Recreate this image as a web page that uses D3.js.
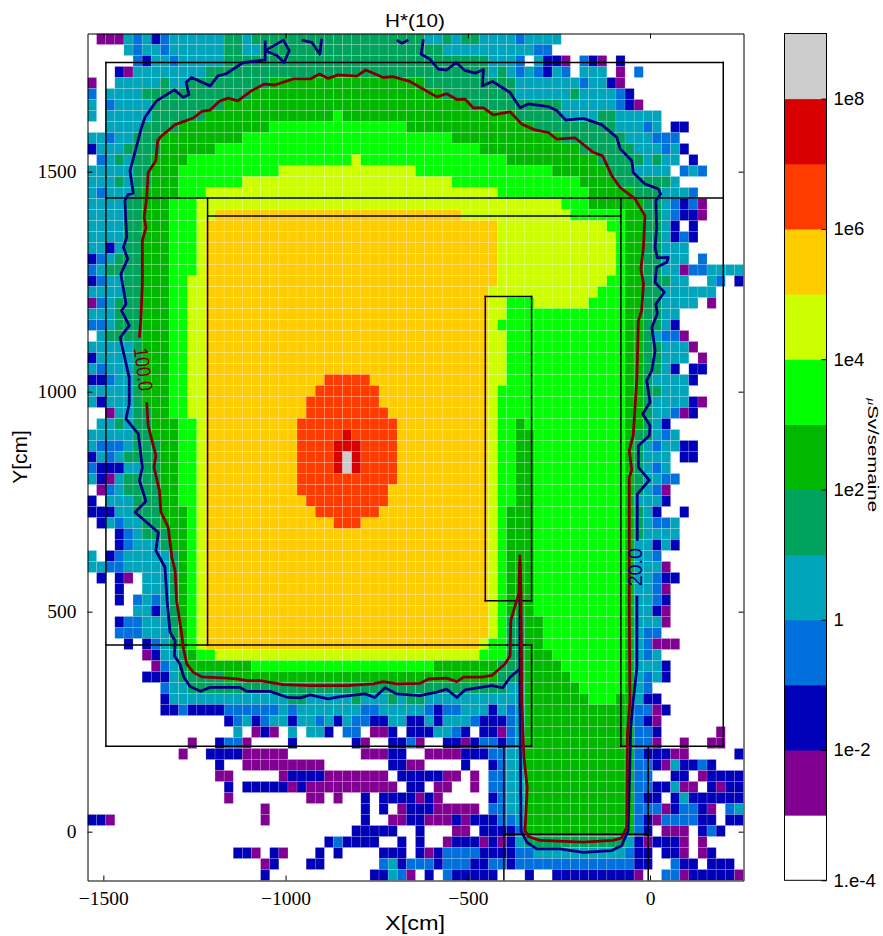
<!DOCTYPE html>
<html><head><meta charset="utf-8">
<script src="https://cdn.jsdelivr.net/npm/d3@7"></script>
<style>html,body{margin:0;padding:0;background:#fff}svg{display:block}</style>
</head><body><svg id="c" width="883" height="936"></svg>
<script>
const bandColors=["#ffffff","#820091","#0000b8","#0070dd","#00a5bb","#00a35c","#00b800","#00ff00","#ccff00","#ffcc00","#ff3c00","#d80000","#cccccc"];
const barTicks=[[8,"1e8"],[6,"1e6"],[4,"1e4"],[2,"1e2"],[0,"1"],[-2,"1e-2"],[-4,"1.e-4"]];
const xTicks=[-1500,-1000,-500,0];
const yTicks=[0,500,1000,1500];
// band index per cell, each row written as "startColumn:band" runs (top row first, band is a hex digit)
const doseRows=[
"0:0 1:1 4:4 5:3 6:4 7:2 8:3 9:4 15:5 17:4 18:5 37:4 39:5 40:4 41:5 43:4 47:3 48:4 52:0",
"0:0 4:4 5:3 6:4 8:3 9:4 15:5 17:4 19:5 39:4 49:3 51:0",
"0:0 5:3 6:2 7:4 9:3 10:4 15:5 44:4 47:3 48:0 49:4 50:2 52:1 53:0 54:3 55:2 56:1 57:0 58:2 59:0",
"0:0 3:2 4:1 5:4 13:5 44:4 45:5 46:4 47:3 48:4 49:3 50:2 51:4 52:3 53:0 54:4 57:0 58:1 59:0 60:3 61:0",
"0:1 1:0 3:4 8:5 9:4 11:5 20:6 37:5 47:4 54:3 55:4 57:2 58:1 59:0",
"0:3 1:0 2:4 6:5 18:6 39:5 47:4 53:5 54:4 58:3 59:2 60:0",
"0:4 1:0 2:3 3:4 7:5 15:6 42:5 52:4 58:3 59:2 60:1 61:0",
"0:4 1:0 2:4 7:5 13:6 27:7 28:6 47:5 52:4 56:5 58:4 63:0",
"0:0 2:4 6:5 10:6 20:7 35:6 49:5 58:4 61:3 62:4 63:0 64:2 66:0",
"0:4 2:3 3:4 5:5 8:6 17:7 40:6 52:5 59:4 62:3 65:0",
"0:2 1:4 4:5 8:6 14:7 43:6 54:5 60:4 63:3 64:4 65:2 66:0",
"0:0 1:3 2:4 3:5 4:4 5:5 7:6 11:7 29:8 30:7 46:6 56:5 61:4 62:5 63:4 65:0 66:2 67:0",
"0:4 5:5 7:6 10:7 21:8 36:7 51:6 57:5 60:4 64:0 65:3 66:4 67:3 68:0",
"0:4 3:5 4:4 5:5 7:6 10:7 17:8 40:7 54:6 58:5 64:4 65:0",
"0:4 1:3 2:4 5:5 6:6 10:7 13:8 45:7 55:6 60:5 63:4 66:3 67:0",
"0:4 4:5 6:6 9:7 12:8 52:7 55:6 61:5 63:4 64:3 65:2 66:3 67:1 68:0",
"0:4 4:5 6:6 9:7 12:8 14:9 41:8 53:7 59:6 61:5 63:4 64:3 65:2 67:1 68:0",
"0:4 4:5 6:6 9:7 12:8 13:9 45:8 57:7 59:6 61:5 63:4 64:2 65:0 66:2 67:0",
"0:4 4:5 6:6 9:7 12:8 13:9 45:8 58:7 59:6 61:5 63:4 64:2 65:3 66:2 67:0",
"0:4 2:2 3:4 4:5 6:6 9:7 12:8 13:9 45:8 58:7 59:6 61:5 63:4 66:0",
"0:2 1:3 2:4 3:5 6:6 9:7 12:8 13:9 45:8 58:7 59:6 61:5 63:4 66:0 67:3 68:0",
"0:3 1:4 2:5 6:6 9:7 12:8 13:9 45:8 58:7 59:6 61:5 63:4 65:1 66:3 68:4",
"0:2 1:3 2:4 4:5 6:6 9:7 11:8 13:9 45:8 57:7 59:6 61:5 64:4 66:0 68:4 69:3 70:0 71:2",
"0:4 4:5 6:6 9:7 11:8 13:9 44:8 56:7 59:6 61:5 63:4 69:0",
"0:1 1:3 2:4 3:5 6:6 9:7 11:8 13:9 44:8 46:7 49:8 55:7 59:6 61:5 63:4 67:0 68:1 69:0",
"0:4 3:5 6:6 9:7 11:8 13:9 44:8 46:7 59:6 61:5 63:4 65:0",
"0:3 2:4 3:5 6:6 9:7 11:8 13:9 44:8 45:7 59:6 61:5 63:4 64:2 65:0",
"0:0 1:4 2:5 6:6 9:7 11:8 13:9 44:8 46:7 59:6 61:5 62:4 63:3 65:1 66:0",
"0:4 5:5 6:6 9:7 11:8 13:9 44:8 46:7 59:6 61:5 63:4 66:1 67:0",
"0:2 1:4 5:5 6:6 9:7 11:8 13:9 44:8 46:7 59:6 61:5 63:4 66:0 67:1 68:0",
"0:4 1:3 2:4 5:5 6:6 9:7 11:8 13:9 44:8 46:7 59:6 61:5 63:4 64:2 65:0 66:2 68:0",
"0:2 2:3 3:4 5:5 6:6 9:7 11:8 13:9 26:a 31:9 44:8 46:7 59:6 61:5 62:4 66:2 67:0",
"0:4 5:5 6:6 9:7 11:8 13:9 25:a 32:9 44:8 45:7 59:6 61:5 63:4 66:0",
"0:4 1:2 2:4 5:5 6:6 9:7 11:8 13:9 24:a 32:9 44:8 45:7 59:6 61:5 62:4 66:2 67:1 68:0",
"0:0 2:1 3:4 5:5 7:6 9:7 11:8 13:9 24:a 33:9 44:8 45:7 59:6 61:5 62:4 64:3 65:1 66:2 67:0",
"0:0 1:4 3:5 4:4 5:5 7:6 10:7 12:8 13:9 23:a 34:9 44:8 45:7 47:6 48:7 59:6 61:5 62:4 63:2 64:0",
"0:4 5:5 7:6 10:7 12:8 13:9 23:a 28:b 29:a 34:9 44:8 45:7 47:6 49:7 59:6 60:5 62:4 63:3 64:4 65:0",
"0:4 1:3 4:4 5:5 8:6 10:7 12:8 13:9 23:a 27:b 30:a 34:9 44:8 45:7 47:6 49:7 59:6 60:5 61:4 62:3 63:4 65:2 67:0",
"0:2 1:4 2:3 3:4 4:5 8:6 10:7 12:8 13:9 23:a 27:b 28:c 29:b 30:a 34:9 44:8 45:7 47:6 49:7 59:6 60:5 61:4 64:0 65:2 67:0",
"0:3 1:2 4:4 6:5 8:6 10:7 12:8 13:9 23:a 27:b 28:c 29:b 30:a 34:9 44:8 45:7 47:6 49:7 59:6 60:5 61:4 62:3 63:4 64:0",
"0:4 1:2 2:1 3:4 4:5 8:6 10:7 12:8 13:9 23:a 34:9 44:8 45:7 47:6 49:7 59:6 60:5 61:4 63:3 65:0",
"0:0 1:1 2:3 3:4 4:5 8:6 10:7 12:8 13:9 23:a 33:9 44:8 45:7 47:6 49:7 59:6 60:5 61:4 62:3 63:1 64:0",
"0:2 1:0 2:4 5:5 8:6 10:7 12:8 13:9 24:a 33:9 44:8 45:7 47:6 49:7 59:6 60:4 63:2 64:0",
"0:2 3:4 5:5 8:6 11:7 12:8 13:9 25:a 32:9 44:8 45:7 46:6 49:7 59:6 60:5 61:4 62:2 63:0 65:2 66:0",
"0:0 1:2 2:4 3:3 4:4 6:5 8:6 11:7 12:8 13:9 27:a 30:9 44:8 45:7 46:6 49:7 59:6 60:5 61:4 62:3 64:4 65:0",
"0:0 3:2 4:3 5:4 6:5 9:6 11:7 12:8 13:9 44:8 45:7 46:6 49:7 59:6 60:5 61:4 65:0",
"0:0 3:2 4:3 5:4 8:5 9:6 11:7 12:8 13:9 44:8 45:7 46:6 49:7 59:6 60:4 62:2 63:4 64:2 65:0",
"0:4 1:0 2:2 3:3 4:4 9:5 10:6 11:7 12:8 13:9 44:8 45:7 46:6 49:7 59:6 60:4 62:3 63:0",
"0:4 2:3 4:4 9:5 10:6 11:7 12:8 13:9 44:8 45:7 46:6 49:7 59:6 60:4 63:1 64:0",
"0:0 1:2 2:0 3:2 4:1 5:0 6:4 9:5 10:6 11:7 12:8 13:9 44:8 45:7 46:6 49:7 59:6 60:4 62:3 63:2 65:0",
"0:0 3:2 4:0 6:4 9:5 10:6 11:7 12:8 13:9 44:8 45:7 46:6 49:7 59:6 60:4 62:3 63:1 64:0",
"0:0 3:2 4:0 5:3 6:4 7:3 8:4 9:5 10:6 11:7 12:8 13:9 44:8 45:7 46:6 49:7 59:6 60:4 62:3 63:2 64:0",
"0:0 5:4 7:2 8:4 9:5 10:6 11:7 12:8 13:9 44:8 45:7 46:6 49:7 59:6 60:4 62:2 63:1 64:0",
"0:0 3:2 4:3 6:4 9:5 10:6 11:7 12:8 13:9 44:8 45:7 46:5 48:6 50:7 59:6 60:4 63:1 64:0",
"0:0 3:3 6:4 9:5 10:6 11:7 12:8 13:9 44:8 45:7 46:5 48:6 50:7 59:6 60:4 61:3 63:0",
"0:0 4:2 5:0 6:2 7:3 8:4 9:5 10:6 11:7 12:8 13:9 43:8 44:7 46:5 48:6 50:7 59:6 60:4 61:3 62:1 65:0",
"0:0 6:1 7:2 8:4 10:5 11:6 12:7 14:8 43:7 46:5 48:6 51:7 59:6 60:4 61:3 62:4 63:0",
"0:0 7:1 8:3 9:4 10:5 11:6 18:7 38:6 45:5 48:6 52:7 59:6 60:4 63:2 64:0",
"0:0 6:2 9:4 10:5 15:6 45:5 48:6 53:7 59:6 60:4 61:3 62:4 63:2 64:0",
"0:0 8:3 9:4 11:5 46:4 48:6 54:7 59:6 60:4 61:3 62:0",
"0:0 8:2 9:4 22:5 24:4 29:5 30:4 33:5 34:4 35:5 37:4 48:6 55:7 58:6 60:4 61:2 63:0",
"0:0 8:2 10:3 11:2 15:3 21:4 22:3 23:4 30:3 32:4 37:3 38:2 39:3 41:4 44:2 45:4 46:3 47:4 48:6 60:3 62:1 63:2 64:0",
"0:0 15:2 16:3 17:4 18:2 19:3 20:4 22:2 23:4 25:3 26:4 27:2 28:4 29:3 31:2 33:4 35:2 37:4 38:2 39:4 42:3 43:2 46:3 47:4 48:6 60:3 61:2 62:1 63:0",
"0:0 16:4 17:0 18:1 19:2 20:1 21:0 22:4 23:0 24:4 26:2 27:0 28:3 30:0 31:1 33:2 34:0 35:2 38:4 40:3 41:2 42:0 43:2 45:1 46:3 47:4 48:6 60:3 62:2 63:0 69:1 70:0",
"0:0 11:1 12:0 14:2 15:3 17:1 18:0 22:2 23:0 29:2 30:1 31:0 33:2 35:3 36:1 37:0 39:2 41:1 42:2 43:3 45:2 46:3 47:4 48:6 60:3 62:1 63:0 65:1 66:0 68:1 70:0",
"0:0 10:1 11:0 13:2 17:1 22:0 30:1 33:2 35:0 37:1 41:2 44:3 46:4 48:6 60:3 61:2 64:1 66:0 71:2",
"0:0 14:2 15:0 17:1 26:0 33:2 35:1 37:0 41:2 42:0 44:2 45:3 46:4 48:6 60:3 62:2 63:1 64:4 65:2 67:3 68:2 69:0",
"0:0 14:1 16:0 21:1 22:2 26:1 33:0 34:2 39:1 41:0 42:1 43:0 44:3 46:4 48:6 60:3 62:0 64:2 66:0 67:1 68:2",
"0:0 15:2 16:0 17:2 22:1 23:2 24:1 34:0 35:2 37:0 38:1 40:0 42:1 43:0 44:3 46:4 48:6 60:3 62:2 64:4 65:1 67:0 68:2 69:1 70:2",
"0:0 15:1 16:0 24:1 26:0 27:1 28:0 30:2 31:0 32:2 36:1 37:2 38:1 39:0 44:2 45:3 46:4 48:6 60:3 61:2 63:0 64:2 65:4 66:2",
"0:0 19:1 20:0 30:2 31:0 32:2 33:0 34:1 35:2 38:1 43:0 44:3 46:4 48:6 60:3 63:1 64:2 65:3 67:2 68:1 69:0 70:3 71:4",
"0:2 2:1 3:0 19:1 20:0 30:2 31:0 33:1 35:2 37:1 40:2 41:1 42:2 45:3 47:4 48:6 60:3 61:2 62:1 63:3 67:2 69:0 70:2",
"0:0 29:2 34:0 36:2 37:0 40:1 42:0 43:2 47:3 48:6 60:3 61:2 62:0 63:1 66:0 67:2 68:3 69:2 70:0",
"0:0 26:2 27:3 28:2 32:0 34:2 35:0 36:2 37:0 39:1 40:2 43:1 44:2 45:1 46:2 47:4 48:5 59:4 60:2 61:1 62:2 65:1 66:0 67:1 68:0",
"0:0 16:2 18:1 19:0 20:2 21:1 22:0 25:2 26:0 27:2 28:0 32:2 35:0 36:2 37:1 38:2 39:3 43:2 47:3 49:4 59:3 60:2 62:0 63:2 65:1 66:0 67:1 68:2 69:0",
"0:0 19:1 20:2 21:0 24:2 26:0 32:3 33:4 34:2 35:3 38:2 39:3 42:2 44:3 46:2 47:3 60:2 62:0 64:3 65:2 67:0 68:2 71:0",
"0:0 19:2 20:0 31:2 33:4 34:3 35:1 36:0 37:2 38:0 39:3 40:2 45:0 48:2 49:0 51:2 60:1 61:0 63:3 65:1 66:2 71:1"
];
// iso-dose contours, [X cm, Y cm]
const contour100=[[-1401,1123],[-1397,1165],[-1393,1245],[-1393,1343],[-1383,1373],[-1388,1396],[-1381,1442],[-1377,1498],[-1356,1525],[-1351,1570],[-1342,1580],[-1303,1607],[-1253,1622],[-1230,1637],[-1207,1640],[-1180,1661],[-1157,1667],[-1131,1661],[-1093,1684],[-1058,1699],[-1029,1697],[-979,1711],[-931,1711],[-907,1722],[-883,1712],[-855,1720],[-805,1717],[-780,1731],[-732,1714],[-706,1716],[-659,1705],[-631,1692],[-585,1670],[-558,1677],[-530,1664],[-508,1665],[-485,1645],[-457,1645],[-430,1629],[-384,1636],[-352,1608],[-316,1595],[-279,1589],[-256,1574],[-206,1577],[-156,1544],[-130,1536],[-105,1491],[-82,1464],[-41,1438],[-14,1400],[-18,1328],[-25,1279],[-18,1245],[-23,1184],[-32,1161],[-36,1032],[-46,900],[-57,866],[-50,822],[-57,805],[-57,502],[-55,298],[-62,222],[-64,10],[-78,-14],[-101,-20],[-183,-24],[-302,-20],[-334,-11],[-343,2],[-337,101],[-346,169],[-352,298],[-354,541],[-357,627],[-360,541],[-366,525],[-382,480],[-384,400],[-398,381],[-434,355],[-462,351],[-512,351],[-530,341],[-558,349],[-608,347],[-631,337],[-695,336],[-732,341],[-759,336],[-832,332],[-933,332],[-1006,334],[-1070,343],[-1107,343],[-1134,347],[-1162,349],[-1230,352],[-1253,362],[-1271,381],[-1281,419],[-1285,449],[-1299,525],[-1303,593],[-1312,623],[-1322,692],[-1342,726],[-1346,775],[-1361,828],[-1356,855],[-1377,923],[-1381,976]];
const contour20a=[[-36,536],[-36,373],[-46,298],[-53,237],[-60,2],[-78,-32],[-105,-43],[-183,-47],[-247,-39],[-311,-39],[-338,-24],[-354,2],[-357,298],[-357,611],[-357,370],[-384,351],[-404,327],[-434,332],[-508,322],[-530,305],[-558,324],[-585,317],[-631,309],[-695,313],[-727,327],[-755,305],[-782,313],[-851,307],[-883,302],[-933,311],[-960,304],[-993,305],[-1043,319],[-1107,319],[-1125,328],[-1207,328],[-1233,319],[-1262,330],[-1279,351],[-1290,381],[-1305,400],[-1303,434],[-1317,453],[-1325,525],[-1331,601],[-1356,639],[-1349,680],[-1413,726],[-1383,751],[-1401,798],[-1393,828],[-1404,904],[-1438,938],[-1429,972],[-1429,1032],[-1454,1123],[-1429,1150],[-1450,1184],[-1438,1199],[-1452,1267],[-1433,1302],[-1445,1328],[-1436,1351],[-1441,1434],[-1432,1448],[-1418,1451],[-1427,1502],[-1395,1601],[-1386,1623],[-1354,1661],[-1305,1686],[-1281,1669],[-1265,1675],[-1273,1703],[-1258,1714],[-1207,1695],[-1185,1718],[-1162,1723],[-1116,1748],[-1056,1754],[-1056,1798]];
const contour20b=[[-1056,1775],[-1006,1799],[-990,1775],[-1004,1748],[-1024,1764],[-1056,1775]];
const contour20c=[[-956,1799],[-928,1794],[-906,1767],[-901,1802]];
const contour20d=[[-695,1799],[-681,1792],[-663,1799]];
const contour20e=[[-622,1801],[-628,1767],[-604,1756],[-581,1733],[-558,1731],[-532,1748],[-508,1730],[-480,1724],[-457,1732],[-460,1695],[-432,1705],[-384,1680],[-357,1645],[-334,1654],[-279,1648],[-256,1639],[-231,1617],[-183,1621],[-133,1607],[-91,1578],[-82,1552],[-50,1525],[-46,1498],[-14,1472],[23,1461],[29,1449],[16,1434],[18,1373],[14,1328],[20,1304],[50,1305],[46,1294],[18,1283],[14,1248],[39,1226],[16,1199],[20,1177],[5,1146],[14,1093],[5,1048],[-9,1025],[0,976],[-20,949],[0,923],[-2,900],[-32,877],[-32,828],[-2,799],[-35,767],[-35,661]];
// wall outlines [X1,Y1,X2,Y2] in cm
const walls=[[-1493,1748,201,1748],[-1493,1748,-1493,194],[201,1748,201,194],[-1493,1440,201,1440],[-1214,1440,-1214,424],[-80,1440,-80,194],[-1214,1399,-80,1399],[-1493,424,-325,424],[-1493,194,-325,194],[-80,194,201,194],[-325,424,-325,194],[-452,1216,-325,1216],[-452,525,-325,525],[-452,1216,-452,525],[-325,1216,-325,525],[-401,194,-401,-111],[-5,194,-5,-111],[-401,-6,-5,-6]];

const W=883,H=936;
const xDomain=[-1543.5,256.5],yDomain=[-111,1814];
const x=d3.scaleLinear().domain(xDomain).range([87.5,743.5]);
const y=d3.scaleLinear().domain(yDomain).range([880.5,33.5]);
const color=d3.scaleOrdinal(d3.range(13),bandColors);
const cellSize=25;
const cells=[];
doseRows.forEach((row,r)=>{
  const runs=row.split(" ").map(s=>s.split(":"));
  runs.forEach((run,i)=>{
    const start=+run[0],end=i+1<runs.length?+runs[i+1][0]:72,band=parseInt(run[1],16);
    for(let c=start;c<end;c++) if(band>0) cells.push({c,r,band});
  });
});
const svg=d3.select("#c");
svg.append("rect").attr("width",W).attr("height",H).attr("fill","#fff");
svg.append("defs").append("clipPath").attr("id","ax").append("rect").attr("x",87.5).attr("y",33.5).attr("width",656).attr("height",847);
const plot=svg.append("g").attr("clip-path","url(#ax)");
const cx=c=>x(xDomain[0]+c*cellSize), cy=r=>y(yDomain[1]-r*cellSize);
plot.append("g").selectAll("rect").data(cells).join("rect")
  .attr("x",d=>cx(d.c)).attr("y",d=>cy(d.r))
  .attr("width",d=>cx(d.c+1)-cx(d.c)).attr("height",d=>cy(d.r+1)-cy(d.r))
  .attr("fill",d=>color(d.band)).attr("stroke","#fff").attr("stroke-opacity",0.2).attr("stroke-width",0.7);
plot.append("g").selectAll("line").data(walls).join("line")
  .attr("x1",d=>x(d[0])).attr("y1",d=>y(d[1])).attr("x2",d=>x(d[2])).attr("y2",d=>y(d[3]))
  .attr("stroke","#000").attr("stroke-width",1.5).attr("stroke-linecap","square");
const line=d3.line().x(d=>x(d[0])).y(d=>y(d[1]));
[contour20a,contour20b,contour20c,contour20d,contour20e].forEach(p=>plot.append("path").attr("d",line(p)).attr("fill","none").attr("stroke","#00007f").attr("stroke-width",2.8).attr("stroke-linejoin","round"));
plot.append("path").attr("d",line(contour100)).attr("fill","none").attr("stroke","#7f0000").attr("stroke-width",2.8).attr("stroke-linejoin","round");

function txt(px,py,s,o){
  const t=svg.append("text").attr("transform",`translate(${px},${py}) rotate(${o.rot||0}) scale(${o.sx||1},1)`)
    .attr("font-family",o.font||"'Liberation Sans'").attr("font-size",o.size).attr("fill",o.fill||"#000").attr("text-anchor",o.anchor||"middle").text(s);
  return t;
}
txt(x(-1390),y(1051),"100.0",{rot:83,size:20,fill:"#7f0000",sx:0.87}).attr("dy",7);
txt(x(-41),y(601),"20.0",{rot:-90,size:20,fill:"#00007f",sx:0.98}).attr("dy",7);

// axes with inward ticks
const serif="'Liberation Serif'";
const fmt=d=>d<0?"\u2212"+(-d):""+d;
const axB=svg.append("g").attr("transform","translate(0,880.5)").call(d3.axisBottom(x).tickValues(xTicks).tickSizeInner(-5).tickSizeOuter(0).tickPadding(11).tickFormat(fmt));
const axT=svg.append("g").attr("transform","translate(0,33.5)").call(d3.axisTop(x).tickValues(xTicks).tickSizeInner(-5).tickSizeOuter(0).tickFormat(""));
const axL=svg.append("g").attr("transform","translate(87.5,0)").call(d3.axisLeft(y).tickValues(yTicks).tickSizeInner(-5).tickSizeOuter(0).tickPadding(11).tickFormat(fmt));
const axR=svg.append("g").attr("transform","translate(743.5,0)").call(d3.axisRight(y).tickValues(yTicks).tickSizeInner(-5).tickSizeOuter(0).tickFormat(""));
[axB,axT,axL,axR].forEach(a=>{a.selectAll("text").attr("font-family",serif).attr("font-size",19.5).attr("fill","#000");a.selectAll("path,line").attr("stroke","#000").attr("stroke-width",1);});

txt(415,27,"H*(10)",{size:19,sx:1.09});
txt(415,930,"X[cm]",{size:21,sx:1.12});
txt(27,457,"Y[cm]",{size:21,rot:-90});

// colour bar
const barY=d3.scaleLinear().domain([-4,9]).range([880.3,33.5]);
const barX=784.5,barW=42;
svg.append("g").selectAll("rect").data(d3.range(13)).join("rect")
  .attr("x",barX).attr("width",barW).attr("y",d=>barY(d-3)).attr("height",d=>barY(d-4)-barY(d-3)+0.5).attr("fill",d=>color(d));
svg.append("rect").attr("x",barX).attr("y",33.5).attr("width",barW).attr("height",846.8).attr("fill","none").attr("stroke","#000").attr("stroke-width",1);
const barAxis=svg.append("g").attr("transform",`translate(${barX+barW},0)`).call(d3.axisRight(barY).tickValues(barTicks.map(d=>d[0])).tickSizeInner(-5).tickSizeOuter(0).tickPadding(7).tickFormat(v=>barTicks.find(d=>d[0]===v)[1]));
barAxis.select("path").remove();
barAxis.selectAll("line").attr("stroke","#000");
barAxis.selectAll("text").attr("font-family","'Liberation Sans'").attr("font-size",18.5).attr("fill","#000");
const lab=svg.append("text").attr("transform","translate(868,455) rotate(90) scale(1.32,1)").attr("font-family","'Liberation Sans'").attr("font-size",15.5).attr("text-anchor","middle");
lab.append("tspan").attr("font-size",11).attr("font-family","'Liberation Serif'").attr("font-style","italic").text("\u03bc");
lab.append("tspan").text("Sv/semaine");
</script></body></html>
